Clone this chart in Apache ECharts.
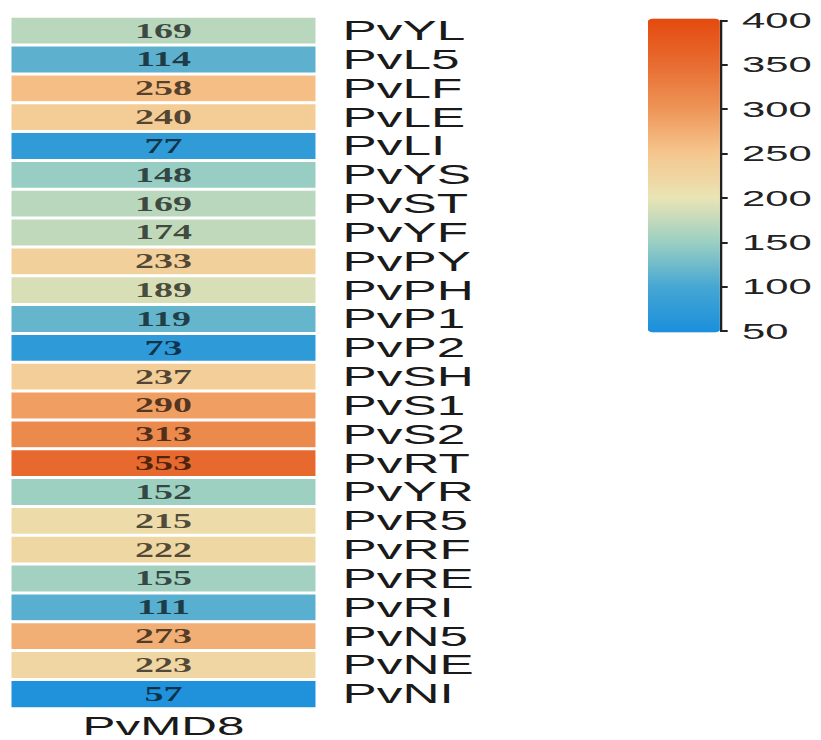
<!DOCTYPE html>
<html>
<head>
<meta charset="utf-8">
<script src="https://cdn.jsdelivr.net/npm/echarts@6/dist/echarts.min.js"></script>
<style>
html,body{margin:0;padding:0;background:#fff;overflow:hidden;width:821px;height:740px;}
#chart{width:432.1px;height:740px;transform:scaleX(1.9);transform-origin:0 0;}
</style>
</head>
<body>
<div id="chart"></div>
<script>
// ---- data ----
var columns = ['PvMD8'];
var categories = ['PvYL','PvL5','PvLF','PvLE','PvLI','PvYS','PvST','PvYF','PvPY','PvPH','PvP1','PvP2','PvSH','PvS1','PvS2','PvRT','PvYR','PvR5','PvRF','PvRE','PvRI','PvN5','PvNE','PvNI'];
var values = [169,114,258,240,77,148,169,174,233,189,119,73,237,290,313,353,152,215,222,155,111,273,223,57];
var scaleMin = 50;
var scaleMax = 400;
var scaleStep = 50;
var palette = ['#1A8FDC','#45A6D3','#9ACFC2','#E9E4B4','#F6C68E','#EE9457','#E86B30','#E44A0E'];

var heatData = values.map(function (v, i) { return [0, i, v]; });

var chart = echarts.init(document.getElementById('chart'), null, {renderer: 'svg'});
chart.setOption({
  animation: false,
  backgroundColor: '#fff',
  grid: [
    {left: 4.8, width: 162.5, top: 16.5, height: 692},
    {left: 379, width: 1, top: 20.5, height: 310.5}
  ],
  xAxis: [
    {type: 'category', gridIndex: 0, data: columns, position: 'bottom',
     axisLine: {show: false}, axisTick: {show: false}, splitLine: {show: false},
     axisLabel: {fontSize: 26, lineHeight: 20, fontFamily: '"Liberation Sans", Arial, sans-serif', color: '#1a1a1a', margin: 7}},
    {type: 'value', gridIndex: 1, show: false}
  ],
  yAxis: [
    {type: 'category', gridIndex: 0, data: categories, inverse: true, position: 'right',
     axisLine: {show: false}, axisTick: {show: false}, splitLine: {show: false},
     axisLabel: {interval: 0, fontSize: 27, fontFamily: '"Liberation Sans", Arial, sans-serif', color: '#1a1a1a', margin: 13}},
    {type: 'value', gridIndex: 1, min: scaleMin, max: scaleMax, interval: scaleStep, position: 'right',
     axisLine: {show: true, lineStyle: {color: '#222', width: 1.3}},
     axisTick: {show: true, length: 4, lineStyle: {color: '#222', width: 2}},
     splitLine: {show: false},
     axisLabel: {fontSize: 22, fontFamily: '"Liberation Sans", Arial, sans-serif', color: '#222', margin: 10.5}}
  ],
  visualMap: {
    type: 'continuous', min: scaleMin, max: scaleMax, seriesIndex: 0, dimension: 2,
    calculable: false, orient: 'vertical', left: 341, top: 18.5,
    itemWidth: 37.9, itemHeight: 314, padding: 0, text: null, showLabel: false,
    inRange: {color: palette}
  },
  series: [{
    type: 'heatmap', xAxisIndex: 0, yAxisIndex: 0, data: heatData,
    itemStyle: {borderColor: '#fff', borderWidth: 3},
    label: {show: true, fontFamily: '"Liberation Serif", "Times New Roman", serif', fontWeight: 'bold', fontSize: 20, color: 'rgba(0,0,0,0.68)',
      formatter: function (p) { return p.value[2]; }},
    emphasis: {disabled: true}
  }]
});
</script>
</body>
</html>
